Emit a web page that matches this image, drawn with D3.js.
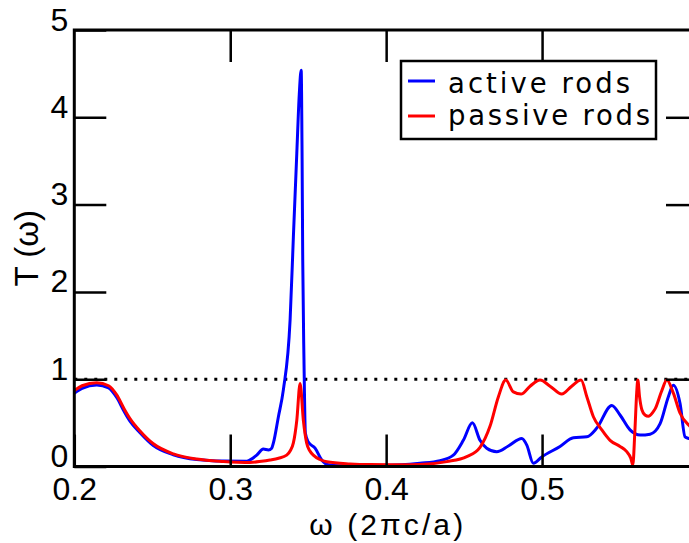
<!DOCTYPE html>
<html>
<head>
<meta charset="utf-8">
<script src="https://cdn.jsdelivr.net/npm/d3@7"></script>
<style>
  html, body { margin: 0; padding: 0; background: #fff; }
  svg { display: block; }
</style>
</head>
<body>
<svg id="chart" width="689" height="543"></svg>
<script>
// ---- data ----
const omegaActive = [0.200,0.205,0.2144,0.222,0.2272,0.232,0.2357,0.242,0.2507,0.2635,0.2785,0.2956,0.3106,0.3127,0.317,0.3212,0.3245,0.3266,0.3277,0.3309,0.3341,0.3384,0.3405,0.3427,0.3443,0.3455,0.3461,0.3465,0.3473,0.3482,0.3501,0.3544,0.3587,0.3629,0.370,0.390,0.410,0.4217,0.4346,0.4431,0.4495,0.4553,0.4602,0.4645,0.4709,0.4784,0.487,0.4902,0.4944,0.4998,0.5115,0.5201,0.5287,0.5351,0.5447,0.550,0.5564,0.5629,0.5693,0.5757,0.581,0.5842,0.5885,0.5917,0.5943,0.600];
const tActive     = [0.84,0.895,0.935,0.90,0.79,0.63,0.52,0.39,0.24,0.135,0.08,0.062,0.06,0.075,0.13,0.20,0.19,0.21,0.27,0.57,0.88,1.68,2.63,3.59,4.27,4.54,3.51,2.37,1.22,0.38,0.28,0.21,0.075,0.02,0.01,0.012,0.02,0.037,0.067,0.13,0.30,0.50,0.30,0.21,0.17,0.235,0.32,0.245,0.037,0.11,0.23,0.33,0.34,0.44,0.70,0.59,0.42,0.36,0.37,0.49,0.80,0.93,0.72,0.34,0.32,0.30];

const omegaPassive = [0.200,0.205,0.2144,0.222,0.2272,0.232,0.2357,0.242,0.2507,0.2635,0.2785,0.2956,0.305,0.3127,0.320,0.3255,0.331,0.3362,0.3385,0.3405,0.3427,0.3448,0.3469,0.349,0.351,0.3533,0.3575,0.3619,0.3768,0.390,0.410,0.4217,0.4389,0.4517,0.4602,0.4666,0.472,0.4767,0.4816,0.4865,0.4923,0.4987,0.5051,0.5126,0.519,0.525,0.5287,0.5329,0.5383,0.5436,0.550,0.5543,0.5569,0.5582,0.5595,0.5607,0.5614,0.5625,0.564,0.566,0.5682,0.571,0.5725,0.5768,0.580,0.5842,0.5885,0.5943,0.600];
const tPassive     = [0.87,0.925,0.96,0.925,0.82,0.66,0.55,0.41,0.26,0.145,0.085,0.058,0.05,0.047,0.06,0.075,0.095,0.13,0.18,0.27,0.53,0.95,0.53,0.27,0.18,0.13,0.08,0.055,0.03,0.022,0.02,0.022,0.056,0.114,0.22,0.46,0.80,0.99,0.855,0.83,0.92,0.99,0.92,0.83,0.92,0.99,0.80,0.57,0.42,0.30,0.23,0.17,0.095,0.017,0.40,0.85,0.99,0.80,0.65,0.59,0.575,0.62,0.66,0.87,0.99,0.84,0.61,0.47,0.40];

const xTickValues = [0.2, 0.3, 0.4, 0.5];
const xFrameTicks = [0.3, 0.4, 0.5];
const yTickValues = [0, 1, 2, 3, 4, 5];
const yInnerTicks = [1, 2, 3, 4];
const seriesNames = ["active rods", "passive rods"];
const seriesColors = ["#0000ff", "#ff0000"];
const referenceLevel = 1;

// ---- layout ----
const x = d3.scaleLinear().domain([0.2, 0.6]).range([74.3, 698]);
const y = d3.scaleLinear().domain([0, 5]).range([466.5, 30]);
const svg = d3.select("#chart");
const tickLen = 32;
const tickFont = "'Liberation Sans', Arial, sans-serif";

svg.append("defs").append("clipPath").attr("id", "plotclip")
  .append("rect").attr("x", x(0.2)).attr("y", y(5)).attr("width", x(0.6) - x(0.2)).attr("height", y(0) - y(5));

// dotted reference line
svg.append("line")
  .attr("x1", x(0.2)).attr("x2", x(0.6))
  .attr("y1", y(referenceLevel)).attr("y2", y(referenceLevel))
  .attr("stroke", "#000").attr("stroke-width", 3)
  .attr("stroke-dasharray", "3,7");

// curves
const line = d3.line().x(d => x(d[0])).y(d => y(d[1])).curve(d3.curveMonotoneX);
const activeData = omegaActive.map((w, i) => [w, tActive[i]]);
const passiveData = omegaPassive.map((w, i) => [w, tPassive[i]]);
const curves = svg.append("g").attr("clip-path", "url(#plotclip)");
curves.append("path").datum(activeData).attr("d", line)
  .attr("fill", "none").attr("stroke", seriesColors[0]).attr("stroke-width", 3).attr("stroke-linejoin", "round");
curves.append("path").datum(passiveData).attr("d", line)
  .attr("fill", "none").attr("stroke", seriesColors[1]).attr("stroke-width", 3).attr("stroke-linejoin", "round");

// axes: bottom
const gBottom = svg.append("g").attr("transform", `translate(0,${y(0)})`)
  .call(d3.axisBottom(x).tickValues(xTickValues).tickFormat(d3.format(".1f")).tickSizeInner(-tickLen).tickSizeOuter(0).tickPadding(0));
gBottom.select(".domain").remove();
gBottom.selectAll(".tick line").attr("stroke", "#000").attr("stroke-width", 2.5);
gBottom.selectAll(".tick text").attr("y", 33.5).attr("dy", 0)
  .attr("font-family", tickFont).attr("font-size", 32).attr("fill", "#000");

// axes: left
const gLeft = svg.append("g").attr("transform", `translate(${x(0.2)},0)`)
  .call(d3.axisLeft(y).tickValues(yTickValues).tickFormat(d3.format("d")).tickSizeInner(-tickLen).tickSizeOuter(0).tickPadding(6));
gLeft.select(".domain").remove();
gLeft.selectAll(".tick line").attr("stroke", "#000").attr("stroke-width", 2.5);
gLeft.selectAll(".tick text").attr("dy", 0).attr("x", -6)
  .attr("font-family", tickFont).attr("font-size", 32).attr("fill", "#000");

// axes: top (ticks only)
const gTop = svg.append("g").attr("transform", `translate(0,${y(5)})`)
  .call(d3.axisTop(x).tickValues(xFrameTicks).tickFormat("").tickSizeInner(-tickLen).tickSizeOuter(0));
gTop.select(".domain").remove();
gTop.selectAll(".tick line").attr("stroke", "#000").attr("stroke-width", 2.5);

// axes: right (ticks only)
const gRight = svg.append("g").attr("transform", `translate(${x(0.6)},0)`)
  .call(d3.axisRight(y).tickValues(yInnerTicks).tickFormat("").tickSizeInner(-tickLen).tickSizeOuter(0));
gRight.select(".domain").remove();
gRight.selectAll(".tick line").attr("stroke", "#000").attr("stroke-width", 2.5);

// frame
svg.append("rect")
  .attr("x", x(0.2)).attr("y", y(5))
  .attr("width", x(0.6) - x(0.2)).attr("height", y(0) - y(5))
  .attr("fill", "none").attr("stroke", "#000").attr("stroke-width", 3);

// axis titles
svg.append("text")
  .attr("x", (x(0.2) + x(0.6)) / 2).attr("y", 535)
  .attr("text-anchor", "middle")
  .attr("font-family", tickFont).attr("font-size", 30)
  .attr("textLength", 154).attr("lengthAdjust", "spacing")
  .text("ω (2πc/a)");
svg.append("text")
  .attr("transform", `translate(38,${(y(0) + y(5)) / 2}) rotate(-90)`)
  .attr("text-anchor", "middle")
  .attr("font-family", tickFont).attr("font-size", 33)
  .text("T (ω)");

// legend
const legend = svg.append("g");
legend.append("rect").attr("x", 401).attr("y", 61).attr("width", 255).attr("height", 78)
  .attr("fill", "#fff").attr("stroke", "#000").attr("stroke-width", 2.5);
const legendRows = seriesNames.map((n, i) => ({name: n, color: seriesColors[i], ly: [81, 116][i], ty: [92.7, 125][i], w: [182, 202][i]}));
legend.selectAll("line.leg").data(legendRows).enter().append("line")
  .attr("x1", 408).attr("x2", 435).attr("y1", d => d.ly).attr("y2", d => d.ly)
  .attr("stroke", d => d.color).attr("stroke-width", 3);
legend.selectAll("text.leg").data(legendRows).enter().append("text")
  .attr("x", 448).attr("y", d => d.ty)
  .attr("font-family", "'DejaVu Sans', sans-serif").attr("font-size", 27.5)
  .attr("textLength", d => d.w).attr("lengthAdjust", "spacing")
  .attr("fill", "#000")
  .text(d => d.name);
</script>
</body>
</html>
